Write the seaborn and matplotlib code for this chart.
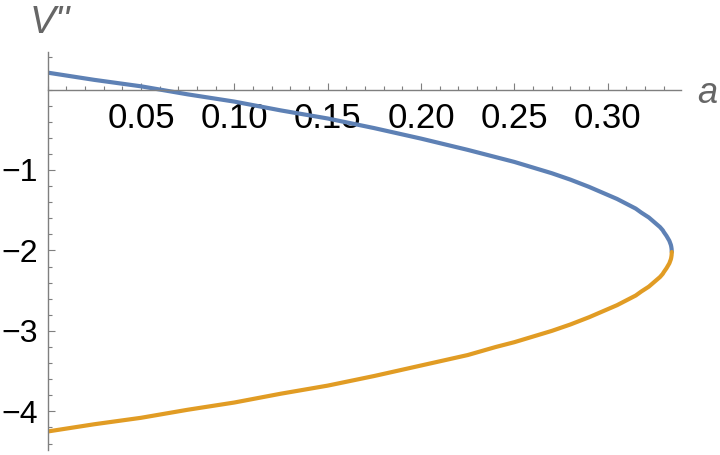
import matplotlib
matplotlib.use("Agg")
import matplotlib.pyplot as plt
import seaborn as sns
from matplotlib.ticker import MultipleLocator, FixedLocator

# Werte (oberer und unterer Zweig)
a_upper = [0.0, 0.025, 0.05, 0.075, 0.10, 0.125, 0.15, 0.175, 0.20, 0.225, 0.24, 0.25,
           0.26, 0.27, 0.28, 0.29, 0.295, 0.30, 0.305, 0.31, 0.315, 0.318, 0.32, 0.322,
           0.324, 0.325, 0.327, 0.328, 0.3295, 0.33, 0.3315, 0.332, 0.333, 0.3338,
           0.334, 0.3342, 0.3343]
v_upper = [0.21, 0.12, 0.04, -0.06, -0.15, -0.26, -0.36, -0.48, -0.61, -0.75, -0.84, -0.90,
           -0.97, -1.04, -1.12, -1.21, -1.26, -1.31, -1.36, -1.42, -1.48, -1.53, -1.56, -1.59,
           -1.63, -1.65, -1.69, -1.71, -1.75, -1.77, -1.82, -1.84, -1.88, -1.93,
           -1.95, -1.98, -2.02]
a_lower = [0.3343, 0.3342, 0.334, 0.3338, 0.333, 0.332, 0.3315, 0.33, 0.3295, 0.328,
           0.327, 0.325, 0.324, 0.322, 0.32, 0.318, 0.315, 0.31, 0.305, 0.30, 0.295,
           0.29, 0.28, 0.27, 0.26, 0.25, 0.24, 0.225, 0.20, 0.175, 0.15, 0.125, 0.10,
           0.075, 0.05, 0.025, 0.0]
v_lower = [-2.02, -2.06, -2.09, -2.11, -2.16, -2.20, -2.22, -2.27, -2.29, -2.33,
           -2.35, -2.39, -2.41, -2.45, -2.48, -2.51, -2.56, -2.62, -2.68, -2.73, -2.78,
           -2.83, -2.92, -3.00, -3.07, -3.14, -3.20, -3.30, -3.43, -3.56, -3.68, -3.78, -3.89,
           -3.98, -4.08, -4.16, -4.25]

x_ticks = [0.05, 0.10, 0.15, 0.20, 0.25, 0.30]
x_labels = ["0.05", "0.10", "0.15", "0.20", "0.25", "0.30"]
y_ticks = [-1, -2, -3, -4]
y_labels = ["\u22121", "\u22122", "\u22123", "\u22124"]

sns.set_style("white")
plt.rcParams["font.family"] = ["Liberation Sans", "DejaVu Sans"]

blue = "#5E81B5"
orange = "#E19C24"
gray = "#7f7f7f"

fig = plt.figure(figsize=(7.2, 4.55), dpi=100)
ax = fig.add_axes([47.6 / 720, 5 / 455, (681.3 - 47.6) / 720, (450 - 51.7) / 455])

sns.lineplot(x=a_upper, y=v_upper, ax=ax, color=blue, lw=3.0, sort=False, estimator=None)
sns.lineplot(x=a_lower, y=v_lower, ax=ax, color=orange, lw=3.0, sort=False, estimator=None)

ax.set_xlim(0, 0.3394)
ax.set_ylim(-4.48, 0.47)

for s in ["top", "right"]:
    ax.spines[s].set_visible(False)
ax.spines["bottom"].set_position(("data", 0))
ax.spines["left"].set_position(("data", 0))
for s in ["bottom", "left"]:
    ax.spines[s].set_color(gray)
    ax.spines[s].set_linewidth(1.0)

ax.xaxis.set_major_locator(FixedLocator(x_ticks))
ax.set_xticklabels(x_labels)
ax.xaxis.set_minor_locator(MultipleLocator(0.01))
ax.yaxis.set_major_locator(FixedLocator(y_ticks))
ax.set_yticklabels(y_labels)
ax.yaxis.set_minor_locator(MultipleLocator(0.2))

ax.tick_params(which="both", bottom=True, left=True, direction="in", color=gray,
               width=0.8, labelcolor="black")
ax.tick_params(which="major", length=5)
ax.tick_params(which="minor", length=3)
ax.tick_params(axis="x", which="major", pad=9, labelsize=25)
ax.tick_params(axis="y", which="major", pad=7, labelsize=23)

fig.text(30 / 720, 1 - 33 / 455, "V''", fontsize=28, style="italic", color="#666666",
         ha="left", va="baseline")
fig.text(697 / 720, 1 - 103 / 455, "a", fontsize=26, style="italic", color="#666666",
         ha="left", va="baseline")

fig.savefig("out.png", dpi=100)
